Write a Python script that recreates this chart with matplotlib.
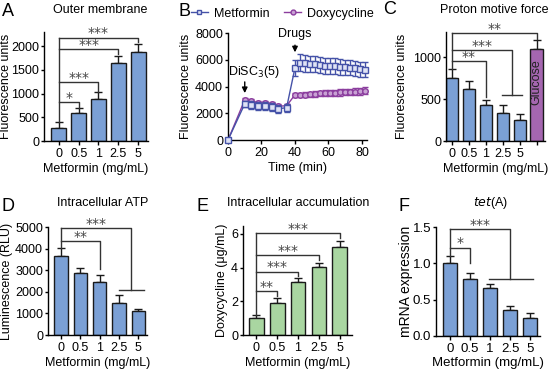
import matplotlib
matplotlib.use('Agg')
import matplotlib.pyplot as plt
import matplotlib.transforms as mtransforms
import numpy as np
from matplotlib.lines import Line2D

plt.rcParams['font.family'] = ['Liberation Sans', 'DejaVu Sans']
plt.rcParams['font.size'] = 9
plt.rcParams['axes.linewidth'] = 1.0

# ---------------- data ----------------
doses = ['0', '0.5', '1', '2.5', '5']

# A outer membrane
a_vals = [265, 597, 884, 1656, 1881]
a_err = [130, 90, 140, 140, 175]
# C proton motive force (last = glucose)
c_vals = [755, 625, 427, 328, 249, 1099]
c_err = [107, 90, 59, 99, 71, 106]
# D intracellular ATP
d_vals = [3662, 2892, 2431, 1492, 1108]
d_err = [384, 231, 338, 354, 92]
# E intracellular accumulation
e_vals = [0.99, 1.92, 3.17, 4.06, 5.25]
e_err = [0.20, 0.26, 0.20, 0.24, 0.35]
# F tet(A)
f_vals = [1.01, 0.79, 0.66, 0.355, 0.25]
f_err = [0.09, 0.08, 0.06, 0.06, 0.06]

# B time course
t_min = [0, 10, 14, 18, 22, 26, 30, 35, 40, 43, 46, 49, 52, 55, 58, 61, 64,
         67, 70, 73, 76, 79, 82]
met_b = [0, 2700, 2600, 2550, 2530, 2480, 2330, 2420, 5400, 5780, 5720, 5700,
         5650, 5600, 5560, 5520, 5500, 5460, 5430, 5400, 5350, 5300, 5270]
met_b_err = [0, 250, 300, 300, 300, 300, 300, 300, 600, 650, 650, 600, 600,
             600, 600, 600, 600, 580, 580, 560, 560, 560, 560]
dox_b = [0, 3000, 2880, 2800, 2780, 2720, 2530, 2560, 3380, 3400, 3390, 3420,
         3450, 3480, 3500, 3520, 3540, 3560, 3580, 3600, 3620, 3640, 3670]
dox_b_err = [0, 120, 150, 150, 150, 150, 150, 150, 150, 150, 170, 180, 200,
             200, 220, 220, 230, 240, 250, 250, 260, 260, 260]

# significance brackets: (target index, bracket height, leg end, label)
a_sig = [(1, 814, 705, '*'), (2, 1235, 1040, '***'),
         (3, 1937, 1830, '***'), (4, 2182, 2085, '***')]
c_sig = [(2, 950, 530, '**'), (3.55, 1087, 553, '***'), (5, 1289, 1220, '**')]
d_sig = [(2, 4338, 3077, '**'), (3.6, 4954, 2077, '***')]
e_sig = [(1, 2.6, 2.3, '**'), (2, 3.76, 3.5, '***'),
         (3, 4.75, 4.45, '***'), (4, 6.04, 5.75, '***')]
f_sig = [(1, 1.22, 1.0, '*'), (3, 1.48, 0.78, '***')]

BLUE_BAR = '#7ba0d5'
GREEN_BAR = '#a9d6a1'
PURPLE_BAR = '#a566b0'
LINE_BLUE = '#4552a8'
LINE_PURPLE = '#8b3d9e'
BRK = '#333333'

W, H = 550, 369
fig = plt.figure(figsize=(5.5, 3.69), dpi=100)


def add_ax(l, t, r, b, fs=9):
    ax = fig.add_axes([l / W, 1 - b / H, (r - l) / W, (b - t) / H])
    ax.spines['top'].set_visible(False)
    ax.spines['right'].set_visible(False)
    ax.tick_params(axis='y', direction='out', length=2.5, width=1, pad=1, labelsize=fs)
    ax.tick_params(axis='x', direction='out', length=3, width=1, pad=2, labelsize=fs)
    return ax


def ylab(ax, text, xpx, fs=9):
    ax.set_ylabel(text, va='center', fontsize=fs)
    tr = mtransforms.blended_transform_factory(fig.transFigure, ax.transAxes)
    ax.yaxis.set_label_coords(xpx / W, 0.5, transform=tr)


def bars(ax, vals, err, color, width=0.7):
    x = np.arange(len(vals))
    ax.bar(x, vals, width=width, color=color, edgecolor='#1a1a1a', linewidth=1, zorder=2)
    ax.errorbar(x, vals, yerr=[np.zeros(len(vals)), err], fmt='none', ecolor='#1a1a1a',
                elinewidth=1, capsize=3, capthick=1, zorder=1)
    return x


def brackets(ax, sig, base, axh_px):
    y0, y1 = ax.get_ylim()
    yoff = 4.2 * (y1 - y0) / axh_px
    top = max(s[1] for s in sig)
    ax.plot([0, 0], [base, top], color=BRK, lw=1, clip_on=False)
    for xi, y, yleg, lab in sig:
        ax.plot([0, xi, xi], [y, y, yleg], color=BRK, lw=1, clip_on=False)
        ax.text(xi / 2, y + yoff, lab, ha='center', va='center', fontsize=10,
                family='DejaVu Sans', color='#444444', clip_on=False)


def group_line(ax, x0, x1, y):
    ax.plot([x0, x1], [y, y], color=BRK, lw=1, clip_on=False)


def letter(x, y, s):
    fig.text(x / W, 1 - y / H, s, fontsize=13, ha='center', va='center')


def title(x, y, s):
    fig.text(x / W, 1 - y / H, s, fontsize=9, ha='center', va='center')


# ---------------- A ----------------
ax = add_ax(44, 32, 148, 141)
x = bars(ax, a_vals, a_err, BLUE_BAR, 0.75)
ax.set_xlim(-0.75, 4.5)
ax.set_ylim(0, 2300)
ax.set_yticks([0, 500, 1000, 1500, 2000])
ax.set_xticks(x)
ax.set_xticklabels(doses)
ylab(ax, 'Fluorescence units', 6)
ax.set_xlabel('Metformin (mg/mL)', labelpad=2)
brackets(ax, a_sig, a_vals[0] + a_err[0], 109)

# ---------------- B ----------------
ax = add_ax(228, 33, 367, 140)
ax.errorbar(t_min, met_b, yerr=met_b_err, color=LINE_BLUE, marker='s', ms=4,
            mfc='#dfe3f5', mec=LINE_BLUE, mew=1, lw=1, capsize=2.5, elinewidth=1,
            clip_on=False, zorder=3)
ax.errorbar(t_min, dox_b, yerr=dox_b_err, color=LINE_PURPLE, marker='o', ms=4,
            mfc='#c9a2d4', mec=LINE_PURPLE, mew=1, lw=1, capsize=2.5, elinewidth=1,
            clip_on=False, zorder=2)
ax.set_xlim(0, 83)
ax.set_ylim(0, 8000)
ax.set_xticks([0, 20, 40, 60, 80])
ax.set_yticks([0, 2000, 4000, 6000, 8000])
ax.set_xlabel('Time (min)', labelpad=2)
ylab(ax, 'Fluorescence units', 186)
ax.annotate('', xy=(10, 3300), xytext=(10, 4550),
            arrowprops=dict(arrowstyle='-|>', color='k', lw=1, mutation_scale=8))
ax.text(15.5, 5100, 'DiSC$_3$(5)', ha='center', va='center', fontsize=9)
ax.annotate('', xy=(40, 6350), xytext=(40, 7300),
            arrowprops=dict(arrowstyle='-|>', color='k', lw=1, mutation_scale=8),
            annotation_clip=False)
ax.text(40, 7950, 'Drugs', ha='center', va='center', fontsize=9, clip_on=False)
handles = [Line2D([], [], color=LINE_BLUE, marker='s', ms=3.5, mfc='#dfe3f5',
                  mec=LINE_BLUE, lw=1),
           Line2D([], [], color=LINE_PURPLE, marker='o', ms=3.5, mfc='#c9a2d4',
                  mec=LINE_PURPLE, lw=1)]
ax.legend(handles, ['Metformin', 'Doxycycline'], loc='center left',
          bbox_to_anchor=(-0.3, 1.18), ncol=2, frameon=False, handlelength=1.3,
          columnspacing=1.2, handletextpad=0.5, fontsize=9, borderaxespad=0)

# ---------------- C ----------------
ax = add_ax(446, 32, 545, 141)
x = np.arange(len(c_vals))
ax.bar(x, c_vals, width=0.72, color=[BLUE_BAR] * 5 + [PURPLE_BAR],
       edgecolor='#1a1a1a', linewidth=1, zorder=2)
ax.errorbar(x, c_vals, yerr=[np.zeros(len(c_vals)), c_err], fmt='none',
            ecolor='#1a1a1a', elinewidth=1, capsize=3, capthick=1, zorder=1)
ax.set_xlim(-0.36, 5.5)
ax.set_ylim(0, 1300)
ax.set_yticks([0, 500, 1000])
ax.set_xticks(x)
ax.set_xticklabels(doses + [''])
ylab(ax, 'Fluorescence units', 402)
ax.set_xlabel('Metformin (mg/mL)', labelpad=2)
ax.text(5, 700, 'Glucose', rotation=90, ha='center', va='center', fontsize=9,
        color='#222222')
brackets(ax, c_sig, c_vals[0] + c_err[0], 109)
group_line(ax, 2.95, 4.15, 553)

# ---------------- D ----------------
ax = add_ax(48, 227, 147, 335)
x = bars(ax, d_vals, d_err, BLUE_BAR, 0.7)
ax.set_xlim(-0.67, 4.45)
ax.set_ylim(0, 5000)
ax.set_yticks([0, 1000, 2000, 3000, 4000, 5000])
ax.set_xticks(x)
ax.set_xticklabels(doses)
ylab(ax, 'Luminescence (RLU)', 7)
ax.set_xlabel('Metformin (mg/mL)', labelpad=2)
brackets(ax, d_sig, d_vals[0] + d_err[0], 108)
group_line(ax, 3.0, 4.3, 2077)

# ---------------- E ----------------
ax = add_ax(243, 225.5, 352, 335)
x = bars(ax, e_vals, e_err, GREEN_BAR, 0.7)
ax.set_xlim(-0.65, 4.6)
ax.set_ylim(0, 6.5)
ax.set_yticks([0, 2, 4, 6])
ax.set_xticks(x)
ax.set_xticklabels(doses)
ylab(ax, 'Doxycycline (\u03bcg/mL)', 222)
ax.set_xlabel('Metformin (mg/mL)', labelpad=2)
brackets(ax, e_sig, e_vals[0] + e_err[0], 109.5)

# ---------------- F ----------------
ax = add_ax(436, 227.3, 540, 335.7, fs=9.5)
x = bars(ax, f_vals, f_err, BLUE_BAR, 0.7)
ax.set_xlim(-0.7, 4.5)
ax.set_ylim(0, 1.5)
ax.set_yticks([0, 0.5, 1.0, 1.5])
ax.set_yticklabels(['0.0', '0.5', '1.0', '1.5'])
ax.set_xticks(x)
ax.set_xticklabels(doses)
ylab(ax, 'mRNA expression', 406, fs=10)
ax.set_xlabel('Metformin (mg/mL)', labelpad=2, fontsize=9.5)
brackets(ax, f_sig, f_vals[0] + f_err[0], 108.4)
group_line(ax, 1.95, 4.15, 0.78)

# titles and panel letters
title(100, 10, 'Outer membrane')
title(494, 10, 'Proton motive force')
title(103, 203, 'Intracellular ATP')
title(298, 203, 'Intracellular accumulation')
fig.text(491 / W, 1 - 203 / H, '$\\it{tet}$(A)', fontsize=9, ha='center', va='center')
letter(8, 11, 'A')
letter(184, 11, 'B')
letter(390, 9, 'C')
letter(8, 206, 'D')
letter(203, 206, 'E')
letter(404, 206, 'F')

fig.savefig('out.png', dpi=100)
